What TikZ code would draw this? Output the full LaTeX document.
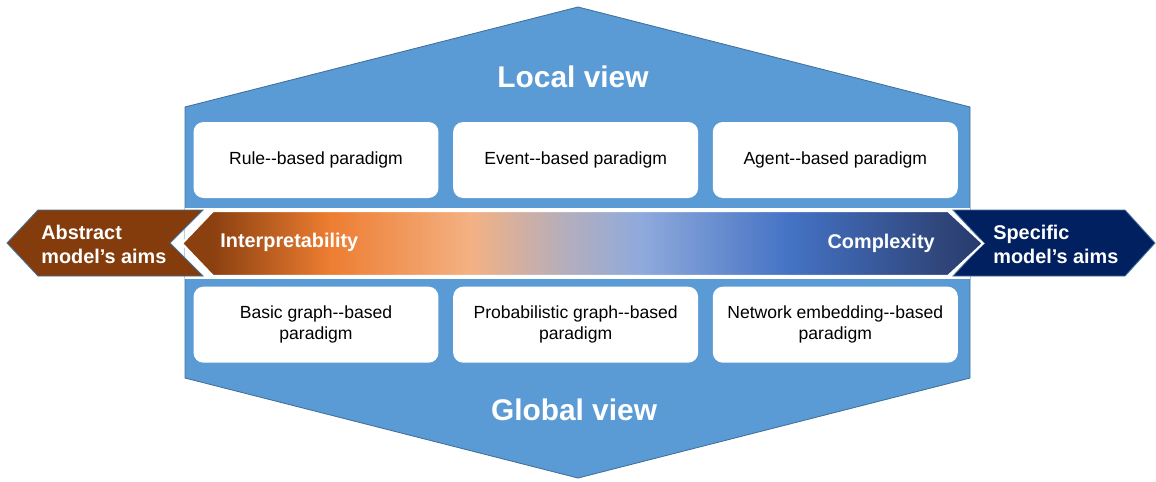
\documentclass[tikz,border=0pt]{standalone}
\usepackage{fontspec}
\setmainfont{Liberation Sans}
\usetikzlibrary{positioning}

\definecolor{hexblue}{HTML}{5B9BD5}
\definecolor{hexline}{HTML}{41719C}
\definecolor{aimbrown}{HTML}{843C0C}
\definecolor{aimnavy}{HTML}{002060}
\definecolor{gbrown}{HTML}{8B4010}
\definecolor{gorange}{HTML}{ED7D31}
\definecolor{gpeach}{HTML}{F4B183}
\definecolor{ggrey}{HTML}{B4AEBC}
\definecolor{glight}{HTML}{8FAADC}
\definecolor{gblue}{HTML}{4472C4}
\definecolor{gdark}{HTML}{2F4478}
\definecolor{gend}{HTML}{263A6E}

\pgfdeclarehorizontalshading{aimshade}{100bp}{color(0bp)=(gbrown); color(26.9bp)=(gbrown); color(34.2bp)=(gorange); color(43bp)=(gpeach); color(48.9bp)=(ggrey); color(53.6bp)=(glight); color(63bp)=(gblue); color(72.8bp)=(gdark); color(75bp)=(gend); color(100bp)=(gend)}

\newcommand{\dblhyph}{-\kern0pt-}

\begin{document}
\begin{tikzpicture}[
		x=0.02cm, y=-0.02cm,
		node distance=1.76cm and 0.28cm,
		hexagon/.style={fill=hexblue, draw=hexline, line width=0.5pt},
		aimarrow/.style={draw=hexline, line width=0.5pt},
		paradigm/.style={fill=white, rounded corners=0.2cm, minimum width=4.9cm, minimum height=1.52cm, align=center, inner sep=2pt, font=\fontsize{10}{12}\selectfont},
		view/.style={text=white, inner sep=0pt, font=\fontsize{17}{20}\selectfont\bfseries},
		aim/.style={text=white, align=left, inner sep=0pt, font=\fontsize{11.3}{13.6}\selectfont\bfseries}
		]
		\useasboundingbox (0,0) rectangle (1156,481);

		% Shapes
		\path[hexagon] (185,107) -- (578,7) -- (970,107) -- (970,378) -- (578,478) -- (185,378) -- cycle;
		\fill[white] (185,208) rectangle (970,279);
		\path[aimarrow, fill=aimbrown] (38,210) -- (203,210) -- (170,243) -- (203,276) -- (38,276) -- (7,243) -- cycle;
		\path[aimarrow, fill=aimnavy] (953,210) -- (1125,210) -- (1155,243) -- (1125,276) -- (953,276) -- (984,243) -- cycle;
		\path[shading=aimshade, draw=white, line width=1.2pt] (213,211) -- (948,211) -- (983,243.5) -- (948,276) -- (213,276) -- (182,243.5) -- cycle;

		% Nodes
		\node[view] (local) at (573,77) {Local view};
		\node[view] (global) at (574,410) {Global view};

		\node[paradigm] (rule) at (316,160) {Rule\dblhyph based paradigm};
		\node[paradigm] (event) [right=of rule] {Event\dblhyph based paradigm};
		\node[paradigm] (agent) [right=of event] {Agent\dblhyph based paradigm};
		\node[paradigm] (basic) [below=of rule] {Basic graph\dblhyph based\\paradigm};
		\node[paradigm] (prob) [below=of event] {Probabilistic graph\dblhyph based\\paradigm};
		\node[paradigm] (embed) [below=of agent] {Network embedding\dblhyph based\\paradigm};

		\node[aim, anchor=west] (abstract) at (41,244) {Abstract\\model’s aims};
		\node[aim, anchor=west] (specific) at (993,244) {Specific\\model’s aims};
		\node[aim, anchor=west] (interp) at (220,242) {Interpretability};
		\node[aim, anchor=east] (complex) at (935,243) {Complexity};

	\end{tikzpicture}
\end{document}
